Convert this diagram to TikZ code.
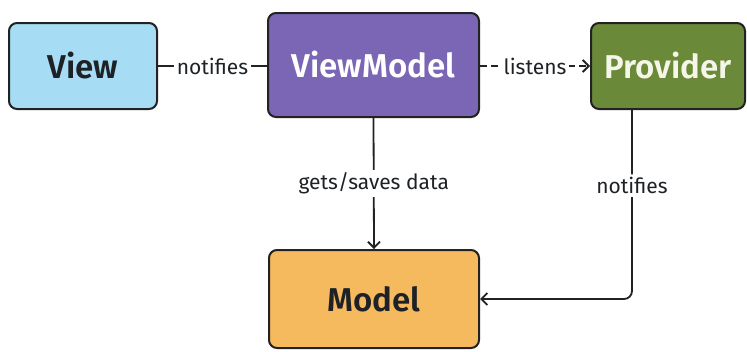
\documentclass[tikz,border=0pt]{standalone}
\usepackage{fontspec}
\setmainfont{Fira Sans}[BoldFont={Fira Sans SemiBold}]
\usetikzlibrary{arrows.meta,calc}
\definecolor{viewfill}{HTML}{A6DDF5}
\definecolor{vmfill}{HTML}{7B66B6}
\definecolor{provfill}{HTML}{6A8A3A}
\definecolor{modelfill}{HTML}{F5B95E}
\definecolor{edge}{HTML}{222222}
\definecolor{ink}{HTML}{1E2226}
\definecolor{cream}{HTML}{F6F6E8}
\tikzset{
  box/.style={draw=edge, line width=2pt, rounded corners=8pt, inner sep=0pt,
    font=\fontsize{33}{38}\selectfont\bfseries},
  link/.style={draw=edge, line width=1.8pt},
  tip/.style={-{Straight Barb[length=6pt,width=12pt,line width=1.8pt]}},
  lbl/.style={fill=white, inner xsep=3pt, inner ysep=3pt, text=ink,
    font=\fontsize{21}{24}\selectfont},
}
\begin{document}
\begin{tikzpicture}[x=1pt,y=-1pt]
\useasboundingbox (0,0) rectangle (747,351);
\fill[white] (0,0) rectangle (747,351);

\node[box, fill=viewfill, text=ink, minimum width=148pt, minimum height=86pt]
  (view) at (83,66) {View};
\node[box, fill=vmfill, text=white, minimum width=211pt, minimum height=104pt]
  (vm) at (373.5,65) {ViewModel};
\node[box, fill=provfill, text=cream, minimum width=154pt, minimum height=86pt]
  (prov) at (668,66) {Provider};
\node[box, fill=modelfill, text=ink, minimum width=210pt, minimum height=98pt]
  (model) at (374,299) {Model};

% View -- ViewModel
\draw[link] (view.east) -- (view.east -| vm.west)
  node[lbl, midway] {notifies};
% ViewModel -> Provider (dashed)
\draw[link, tip, dash pattern=on 7pt off 4pt] (vm.east |- prov.west) -- (prov.west)
  node[lbl, midway] {listens};
% ViewModel -> Model
\draw[link, tip] (vm.south) -- (model.north)
  node[lbl, midway] {gets/saves data};
% Provider -> Model
\draw[link, tip, rounded corners=8pt] ([xshift=-36pt]prov.south) |- (model.east)
  node[lbl, pos=0.2] {notifies};
\end{tikzpicture}
\end{document}
